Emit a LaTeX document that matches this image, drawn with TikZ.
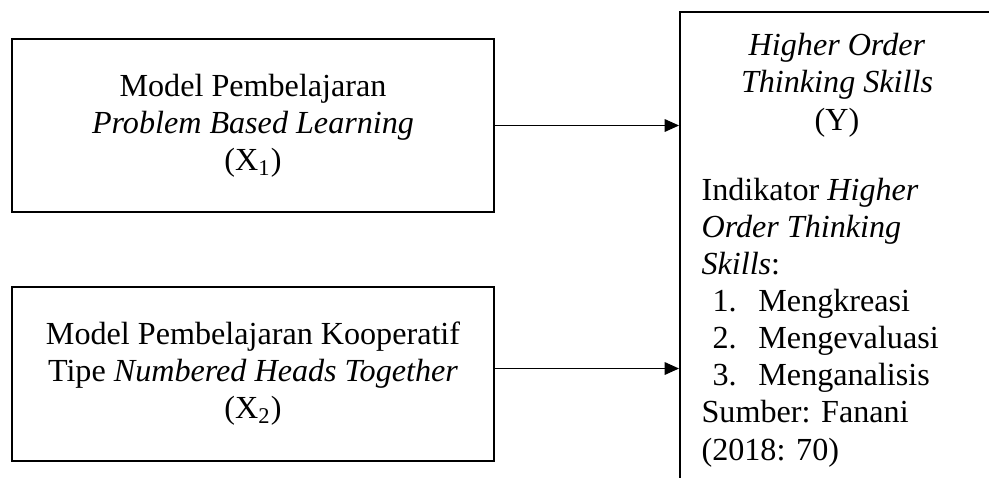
\documentclass[tikz,border=0pt]{standalone}
\usepackage{fontspec}
\setmainfont{Liberation Serif}
\usetikzlibrary{arrows.meta}

\begin{document}
\begin{tikzpicture}[
  x=0.364pt, y=-0.364pt,
  font=\fontsize{11.7}{13.5}\selectfont,
  varbox/.style={draw, line width=0.75pt, minimum width=175.4pt, minimum height=63pt, align=center, inner sep=0pt},
  link/.style={-{Triangle[length=5.2pt,width=4.6pt]}, line width=0.4pt}
]
\useasboundingbox (0,0) rectangle (989,477);
\clip (0,0) rectangle (989,477);

% independent variables
\node[varbox] (pbl) at (253,125.5) {Model Pembelajaran\\ \textit{Problem Based Learning}\\ (X\textsubscript{1})};
\node[varbox] (nht) at (253,374) {Model Pembelajaran Kooperatif\\ Tipe \textit{Numbered Heads Together}\\ (X\textsubscript{2})};

% dependent variable (box runs off the page)
\node[draw, line width=0.75pt, anchor=north west, minimum width=115pt, minimum height=200pt, inner sep=0pt] (hots) at (679,11) {};
\node[align=center, anchor=base, inner sep=0pt] (hotsY) at (837,130) {\textit{Higher Order}\\ \textit{Thinking Skills}\\ (Y)};
\node[align=left, anchor=base west, inner sep=0pt] (hotsInd) at (701,460) {Indikator \textit{Higher}\\ \textit{Order Thinking}\\ \textit{Skills}:\\
  \hspace*{4pt}\makebox[16.7pt][l]{1.}Mengkreasi\\
  \hspace*{4pt}\makebox[16.7pt][l]{2.}Mengevaluasi\\
  \hspace*{4pt}\makebox[16.7pt][l]{3.}Menganalisis\\
  Sumber: Fanani\\ (2018: 70)};

\draw[link] (pbl.east) -- (pbl.east -| hots.west);
\draw[link] ([yshift=2pt]nht.east) -- ([yshift=2pt]nht.east -| hots.west);
\end{tikzpicture}
\end{document}
